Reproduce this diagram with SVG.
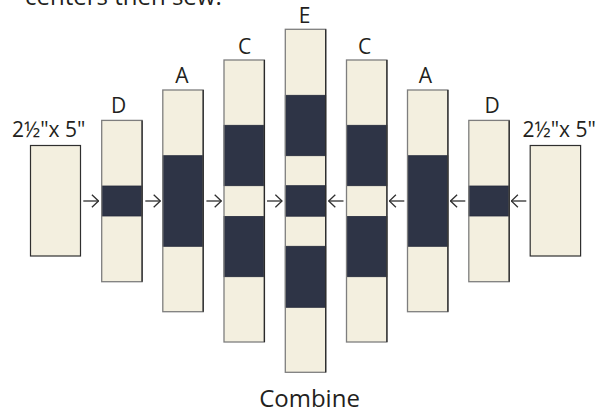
<svg xmlns="http://www.w3.org/2000/svg" width="613" height="414" viewBox="0 0 613 414">
  <style>
    .txt { font-family: "Open Sans", "Noto Sans", "Liberation Sans", sans-serif; fill: #231F20; }
    .lbl { font-size: 21px; text-anchor: middle; }
    .light { fill: #F3EFDF; }
    .dark { fill: #2E3446; stroke: #23283A; stroke-width: 0.8; }
    .edge { fill: none; stroke: #7E7E7E; stroke-width: 1.3; }
    .redge { stroke: #2A2A2A; stroke-width: 1.3; }
    .plain { fill: #F3EFDF; stroke: #2F2F2F; stroke-width: 1.2; }
    .arr { stroke: #2F2F2F; stroke-width: 1.3; fill: none; }
  </style>
  <defs>
    <marker id="head" markerUnits="userSpaceOnUse" viewBox="0 0 8 14" markerWidth="8" markerHeight="14" refX="7.2" refY="7" orient="auto">
      <path d="M0.6,0.7 L7.2,7 L0.6,13.3" fill="none" stroke="#2F2F2F" stroke-width="1.3"/>
    </marker>
  </defs>
  <rect width="613" height="414" fill="#FFFFFF"/>

  <text class="txt" x="25" y="4.5" font-size="24">centers then sew.</text>

  <g id="plain-left">
    <rect class="plain" x="30.5" y="145.5" width="50" height="110.5"/>
    <text class="txt lbl" x="48.7" y="137.3">2½"x 5"</text>
  </g>

  <g id="strip-D-left">
    <rect class="light" x="101.7" y="120.4" width="40.4" height="161.3"/>
    <rect class="dark" x="101.7" y="186" width="40.4" height="30"/>
    <rect class="edge" x="101.7" y="120.4" width="40.4" height="161.3"/>
    <line class="redge" x1="142.1" y1="120.4" x2="142.1" y2="281.7"/>
    <text class="txt lbl" x="118.5" y="112.7">D</text>
  </g>

  <g id="strip-A-left">
    <rect class="light" x="162.8" y="90" width="40.4" height="221.7"/>
    <rect class="dark" x="162.8" y="155.7" width="40.4" height="90.6"/>
    <rect class="edge" x="162.8" y="90" width="40.4" height="221.7"/>
    <line class="redge" x1="203.2" y1="90" x2="203.2" y2="311.7"/>
    <text class="txt lbl" x="182" y="82.5">A</text>
  </g>

  <g id="strip-C-left">
    <rect class="light" x="224" y="60" width="40.4" height="282"/>
    <rect class="dark" x="224" y="125.3" width="40.4" height="60.4"/>
    <rect class="dark" x="224" y="216.5" width="40.4" height="60.2"/>
    <rect class="edge" x="224" y="60" width="40.4" height="282"/>
    <line class="redge" x1="264.4" y1="60" x2="264.4" y2="342"/>
    <text class="txt lbl" x="244.5" y="54">C</text>
  </g>

  <g id="strip-E">
    <rect class="light" x="285.3" y="29.3" width="40.4" height="343"/>
    <rect class="dark" x="285.3" y="95.3" width="40.4" height="60.4"/>
    <rect class="dark" x="285.3" y="185.7" width="40.4" height="30.5"/>
    <rect class="dark" x="285.3" y="246.3" width="40.4" height="61"/>
    <rect class="edge" x="285.3" y="29.3" width="40.4" height="343"/>
    <line class="redge" x1="325.7" y1="29.3" x2="325.7" y2="372.3"/>
    <text class="txt lbl" x="304.5" y="22.5">E</text>
  </g>

  <g id="strip-C-right">
    <rect class="light" x="346.5" y="60" width="40.4" height="282"/>
    <rect class="dark" x="346.5" y="125.3" width="40.4" height="60.4"/>
    <rect class="dark" x="346.5" y="216.5" width="40.4" height="60.2"/>
    <rect class="edge" x="346.5" y="60" width="40.4" height="282"/>
    <line class="redge" x1="386.9" y1="60" x2="386.9" y2="342"/>
    <text class="txt lbl" x="364.5" y="54">C</text>
  </g>

  <g id="strip-A-right">
    <rect class="light" x="407.5" y="90" width="40.4" height="221.7"/>
    <rect class="dark" x="407.5" y="155.7" width="40.4" height="90.6"/>
    <rect class="edge" x="407.5" y="90" width="40.4" height="221.7"/>
    <line class="redge" x1="447.9" y1="90" x2="447.9" y2="311.7"/>
    <text class="txt lbl" x="425.5" y="82.5">A</text>
  </g>

  <g id="strip-D-right">
    <rect class="light" x="468.8" y="120.4" width="40.4" height="161.3"/>
    <rect class="dark" x="468.8" y="186" width="40.4" height="30"/>
    <rect class="edge" x="468.8" y="120.4" width="40.4" height="161.3"/>
    <line class="redge" x1="509.2" y1="120.4" x2="509.2" y2="281.7"/>
    <text class="txt lbl" x="492" y="112.5">D</text>
  </g>

  <g id="plain-right">
    <rect class="plain" x="530.2" y="145.5" width="50.4" height="110.5"/>
    <text class="txt lbl" x="559.2" y="137">2½"x 5"</text>
  </g>

  <g id="connectors">
    <line class="arr" x1="83.3" y1="201" x2="98.5" y2="201" marker-end="url(#head)"/>
    <line class="arr" x1="145.3" y1="201" x2="160.3" y2="201" marker-end="url(#head)"/>
    <line class="arr" x1="206.4" y1="201" x2="221.3" y2="201" marker-end="url(#head)"/>
    <line class="arr" x1="267" y1="201" x2="282" y2="201" marker-end="url(#head)"/>
    <line class="arr" x1="343.5" y1="201" x2="328.7" y2="201" marker-end="url(#head)"/>
    <line class="arr" x1="404.3" y1="201" x2="389.3" y2="201" marker-end="url(#head)"/>
    <line class="arr" x1="465.3" y1="201" x2="450.5" y2="201" marker-end="url(#head)"/>
    <line class="arr" x1="526.3" y1="201" x2="511.3" y2="201" marker-end="url(#head)"/>
  </g>

  <text class="txt" x="309.5" y="406.5" font-size="24" text-anchor="middle">Combine</text>
</svg>
